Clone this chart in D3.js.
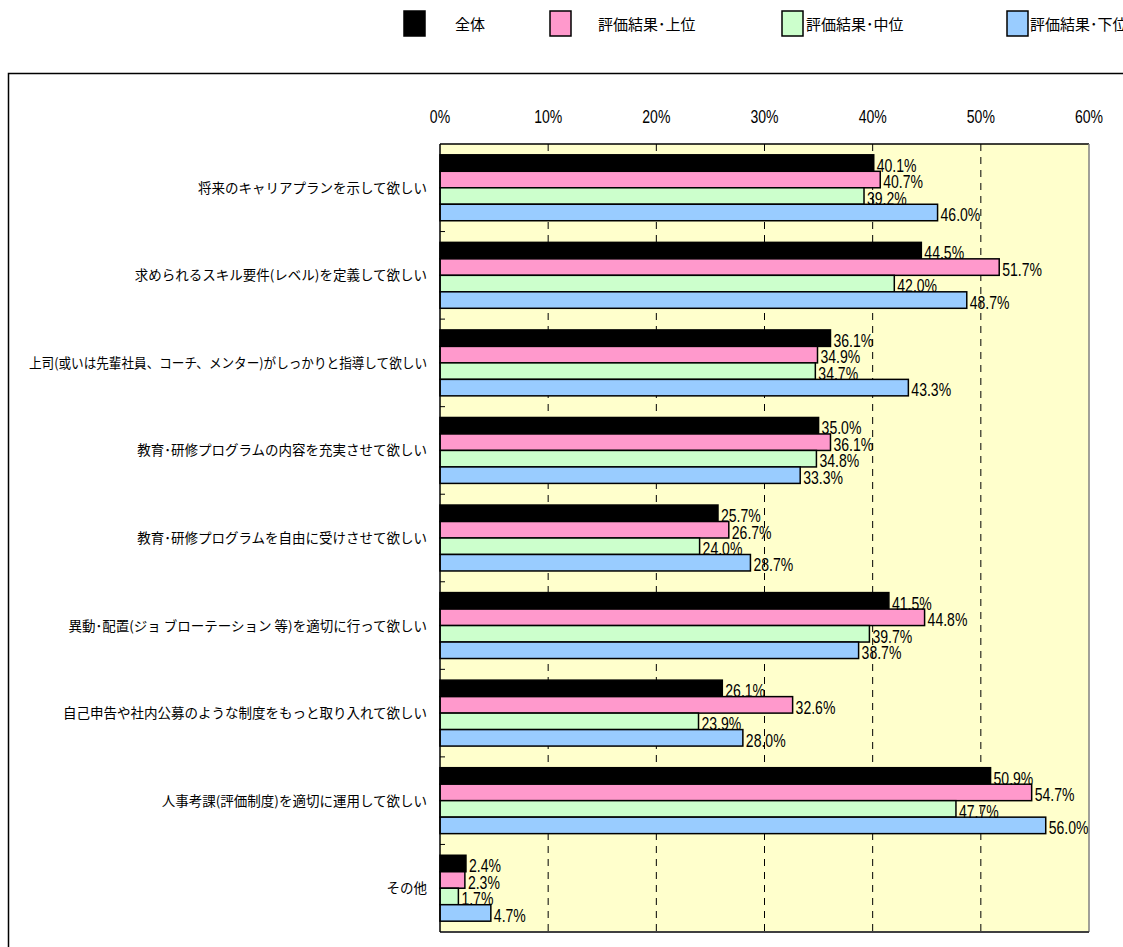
<!DOCTYPE html>
<html><head><meta charset="utf-8">
<script src="https://cdn.jsdelivr.net/npm/d3@7"></script>
<style>
html,body{margin:0;padding:0;background:#fff;}
svg{display:block;}
</style></head>
<body>
<svg id="chart" width="1123" height="947"></svg>
<script>
const categories = [
  "将来のキャリアプランを示して欲しい",
  "求められるスキル要件(レベル)を定義して欲しい",
  "上司(或いは先輩社員、コーチ、メンター)がしっかりと指導して欲しい",
  "教育･研修プログラムの内容を充実させて欲しい",
  "教育･研修プログラムを自由に受けさせて欲しい",
  "異動･配置(ジョ ブローテーション 等)を適切に行って欲しい",
  "自己申告や社内公募のような制度をもっと取り入れて欲しい",
  "人事考課(評価制度)を適切に運用して欲しい",
  "その他"
];
const seriesNames = ["全体", "評価結果･上位", "評価結果･中位", "評価結果･下位"];
const seriesColors = ["#000000", "#FF99CC", "#CCFFCC", "#99CCFF"];
const valuesAll    = [40.1, 44.5, 36.1, 35.0, 25.7, 41.5, 26.1, 50.9, 2.4];
const valuesTop    = [40.7, 51.7, 34.9, 36.1, 26.7, 44.8, 32.6, 54.7, 2.3];
const valuesMid    = [39.2, 42.0, 34.7, 34.8, 24.0, 39.7, 23.9, 47.7, 1.7];
const valuesLow    = [46.0, 48.7, 43.3, 33.3, 28.7, 38.7, 28.0, 56.0, 4.7];
const tickValues   = [0, 10, 20, 30, 40, 50, 60];

const seriesValues = [valuesAll, valuesTop, valuesMid, valuesLow];

const svg = d3.select("#chart");
const numFont = "'Liberation Sans','Arial',sans-serif";
const jpFont = "'Noto Sans CJK JP','Noto Sans',sans-serif";
const condense = 0.78;

// outer frame
svg.append("rect").attr("x", 8.5).attr("y", 73.5).attr("width", 1200).attr("height", 1000)
  .attr("fill", "none").attr("stroke", "#000").attr("stroke-width", 1.5);

const plot = {left: 440, right: 1089, top: 144, bottom: 932};
const x = d3.scaleLinear().domain([0, 60]).range([plot.left, plot.right]);
const y = d3.scaleBand().domain(d3.range(categories.length))
  .range([plot.top, plot.bottom]).paddingInner(0.247).paddingOuter(0.1235);
const ys = d3.scaleBand().domain(d3.range(4)).range([0, y.bandwidth()]);

// background
svg.append("rect").attr("x", plot.left).attr("y", plot.top)
  .attr("width", plot.right - plot.left).attr("height", plot.bottom - plot.top)
  .attr("fill", "#FFFFCC");

// gridlines
svg.append("g").selectAll("line").data(tickValues.filter(t => t > 0 && t < 60)).join("line")
  .attr("x1", d => x(d)).attr("x2", d => x(d))
  .attr("y1", plot.top).attr("y2", plot.bottom)
  .attr("stroke", "#000").attr("stroke-width", 1).attr("stroke-dasharray", "7,6");

// top axis labels (condensed)
svg.append("g").selectAll("text").data(tickValues).join("text")
  .attr("transform", d => `translate(${x(d)},123) scale(${condense},1)`)
  .attr("text-anchor", "middle")
  .attr("font-family", numFont).attr("font-size", 18).attr("fill", "#000")
  .text(d => d + "%");

// plot border
svg.append("line").attr("x1", plot.left).attr("x2", plot.right).attr("y1", plot.top).attr("y2", plot.top)
  .attr("stroke", "#000").attr("stroke-width", 1.5);
svg.append("line").attr("x1", plot.right).attr("x2", plot.right).attr("y1", plot.top).attr("y2", plot.bottom)
  .attr("stroke", "#808080").attr("stroke-width", 1.5);
svg.append("line").attr("x1", plot.left).attr("x2", plot.right).attr("y1", plot.bottom).attr("y2", plot.bottom)
  .attr("stroke", "#404040").attr("stroke-width", 2);

// left axis ticks at category boundaries
const step = y.step();
const boundaries = d3.range(1, categories.length).map(i => plot.top + i * step);
svg.append("g").selectAll("line").data(boundaries).join("line")
  .attr("x1", plot.left).attr("x2", plot.left + 5)
  .attr("y1", d => d).attr("y2", d => d)
  .attr("stroke", "#000").attr("stroke-width", 1);

// bars
const gBars = svg.append("g");
categories.forEach((c, i) => {
  seriesValues.forEach((vals, s) => {
    const by = y(i) + ys(s);
    gBars.append("rect")
      .attr("x", x(0)).attr("y", by)
      .attr("width", x(vals[i]) - x(0)).attr("height", ys.bandwidth())
      .attr("fill", seriesColors[s]).attr("stroke", "#000").attr("stroke-width", 1.5);
  });
});
// value labels
const gLabels = svg.append("g");
categories.forEach((c, i) => {
  seriesValues.forEach((vals, s) => {
    const by = y(i) + ys(s);
    gLabels.append("text")
      .attr("transform", `translate(${x(vals[i]) + 3},${by + ys.bandwidth() + 0.5}) scale(${condense},1)`)
      .attr("font-family", numFont).attr("font-size", 18).attr("fill", "#000")
      .text(vals[i].toFixed(1) + "%");
  });
});

svg.append("line").attr("x1", plot.left).attr("x2", plot.left).attr("y1", plot.top).attr("y2", plot.bottom)
  .attr("stroke", "#000").attr("stroke-width", 1.5);

// category labels
const maxLabelW = 398;
svg.append("g").selectAll("text").data(categories).join("text")
  .attr("x", 427).attr("y", (d, i) => y(i) + y.bandwidth() / 2 + 5)
  .attr("text-anchor", "end").attr("font-family", jpFont).attr("font-size", 13.5).attr("fill", "#000")
  .text(d => d)
  .each(function() {
    const w = this.getComputedTextLength();
    if (w > maxLabelW) {
      d3.select(this).attr("textLength", maxLabelW).attr("lengthAdjust", "spacingAndGlyphs");
    }
  });

// legend
const legendX = [404, 550, 782, 1007];
const legendTextX = [455, 598, 806, 1030];
const gLeg = svg.append("g");
seriesNames.forEach((n, s) => {
  gLeg.append("rect").attr("x", legendX[s]).attr("y", 11).attr("width", 21).attr("height", 25)
    .attr("fill", seriesColors[s]).attr("stroke", "#000").attr("stroke-width", 1.5);
  gLeg.append("text").attr("x", legendTextX[s]).attr("y", 30)
    .attr("font-family", jpFont).attr("font-size", 15).attr("fill", "#000").text(n);
});
</script>
</body></html>
